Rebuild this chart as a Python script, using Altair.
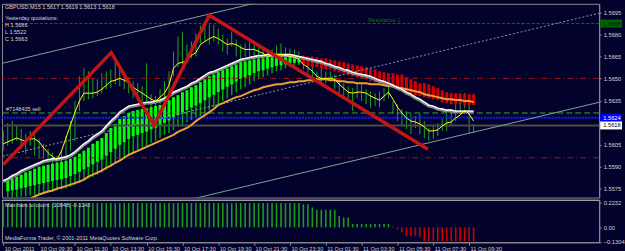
import json
import altair as alt
import pandas as pd

FONT = "Liberation Sans, Arial, sans-serif"
BG = "#02022c"
FG = "#d4d4d4"
BORDER = "#8c8c8c"

symbol_line = "GBPUSD,M15  1.5617 1.5619 1.5613 1.5618"
yesterday_lines = ["Yesterday quotations:", "H 1.5686", "L 1.5522", "C 1.5663"]
order_label = "#7148435 sell"
resistance_label = "Resistance 1"
osc_label = "Max bars to count: |10848|  -0.1143"
copyright_label = "MediaForma Trader, \u00a9 2001-2011 MetaQuotes Software Corp."

tick_idx = [0, 8, 16, 24, 32, 40, 48, 56, 64, 72, 80, 88, 96, 104]
tick_labels = ["10 Oct 2011", "10 Oct 09:30", "10 Oct 11:30", "10 Oct 13:30", "10 Oct 15:30",
               "10 Oct 17:30", "10 Oct 19:30", "10 Oct 21:30", "10 Oct 23:30", "11 Oct 01:30",
               "11 Oct 03:30", "11 Oct 05:30", "11 Oct 07:30", "11 Oct 09:30"]
price_ticks = [1.5575, 1.5590, 1.5605, 1.5635, 1.5650, 1.5665, 1.5680, 1.5695]
osc_ticks = [0.2232, 0.0, -0.1304]

bar_high = [1.56145, 1.56199, 1.56212, 1.56179, 1.56158, 1.56124, 1.56145, 1.56118, 1.56091, 1.56057,
            1.56023, 1.55996, 1.55976, 1.56009, 1.56111, 1.56212, 1.56348, 1.56517, 1.56571, 1.56551,
            1.56503, 1.56497, 1.56537, 1.56551, 1.56564, 1.56618, 1.56578, 1.56551, 1.56510, 1.56483,
            1.56470, 1.56449, 1.56605, 1.56395, 1.56382, 1.56429, 1.56483, 1.56551, 1.56686, 1.56788,
            1.56821, 1.56733, 1.56754, 1.56808, 1.56862, 1.56889, 1.56869, 1.56869, 1.56842, 1.56801,
            1.56774, 1.56821, 1.56767, 1.56733, 1.56740, 1.56754, 1.56754, 1.56713, 1.56700, 1.56700,
            1.56700, 1.56727, 1.56740, 1.56713, 1.56706, 1.56700, 1.56686, 1.56652, 1.56632, 1.56598,
            1.56551, 1.56571, 1.56551, 1.56551, 1.56530, 1.56497, 1.56470, 1.56449, 1.56436, 1.56463,
            1.56463, 1.56429, 1.56415, 1.56402, 1.56415, 1.56436, 1.56463, 1.56348, 1.56327, 1.56294,
            1.56280, 1.56260, 1.56246, 1.56260, 1.56212, 1.56165, 1.56179, 1.56199, 1.56226, 1.56260,
            1.56280, 1.56327, 1.56395, 1.56402, 1.56348, 1.56190]
bar_low = [1.56009, 1.56043, 1.56057, 1.56077, 1.56023, 1.55989, 1.56043, 1.55976, 1.55955, 1.55955,
           1.55928, 1.55901, 1.55861, 1.55806, 1.55942, 1.56009, 1.56077, 1.56280, 1.56348, 1.56361,
           1.56368, 1.56382, 1.56402, 1.56429, 1.56436, 1.56463, 1.56449, 1.56429, 1.56402, 1.56368,
           1.56348, 1.56327, 1.56348, 1.56300, 1.56294, 1.56327, 1.56368, 1.56395, 1.56517, 1.56578,
           1.56598, 1.56605, 1.56639, 1.56652, 1.56740, 1.56754, 1.56733, 1.56754, 1.56733, 1.56686,
           1.56666, 1.56720, 1.56652, 1.56632, 1.56652, 1.56646, 1.56639, 1.56618, 1.56632, 1.56618,
           1.56605, 1.56639, 1.56605, 1.56632, 1.56632, 1.56605, 1.56598, 1.56564, 1.56537, 1.56503,
           1.56483, 1.56463, 1.56470, 1.56483, 1.56429, 1.56382, 1.56368, 1.56348, 1.56280, 1.56368,
           1.56348, 1.56327, 1.56300, 1.56314, 1.56307, 1.56348, 1.56368, 1.56260, 1.56212, 1.56179,
           1.56158, 1.56124, 1.56165, 1.56124, 1.56097, 1.56077, 1.56091, 1.56111, 1.56145, 1.56145,
           1.56179, 1.56212, 1.56260, 1.56300, 1.56131, 1.56130]
ma_fast = [1.56057, 1.56070, 1.56084, 1.56097, 1.56084, 1.56077, 1.56091, 1.56091, 1.56070, 1.56030,
           1.55996, 1.55969, 1.55949, 1.56009, 1.56097, 1.56185, 1.56273, 1.56348, 1.56402, 1.56402,
           1.56402, 1.56409, 1.56429, 1.56456, 1.56483, 1.56490, 1.56503, 1.56490, 1.56476, 1.56442,
           1.56422, 1.56402, 1.56382, 1.56361, 1.56348, 1.56375, 1.56402, 1.56456, 1.56571, 1.56605,
           1.56612, 1.56625, 1.56659, 1.56679, 1.56733, 1.56754, 1.56774, 1.56788, 1.56774, 1.56754,
           1.56733, 1.56740, 1.56733, 1.56713, 1.56700, 1.56700, 1.56700, 1.56686, 1.56673, 1.56652,
           1.56659, 1.56666, 1.56666, 1.56659, 1.56652, 1.56646, 1.56632, 1.56598, 1.56578, 1.56551,
           1.56517, 1.56503, 1.56503, 1.56503, 1.56497, 1.56463, 1.56436, 1.56409, 1.56402, 1.56409,
           1.56409, 1.56402, 1.56382, 1.56368, 1.56355, 1.56382, 1.56409, 1.56361, 1.56307, 1.56267,
           1.56233, 1.56212, 1.56206, 1.56192, 1.56172, 1.56145, 1.56145, 1.56152, 1.56179, 1.56199,
           1.56206, 1.56233, 1.56253, 1.56287, 1.56260, 1.56212]
ma_mid = [1.55806, 1.55820, 1.55840, 1.55854, 1.55874, 1.55888, 1.55901, 1.55915, 1.55928, 1.55942,
          1.55949, 1.55955, 1.55955, 1.55962, 1.55969, 1.55982, 1.56003, 1.56030, 1.56057, 1.56077,
          1.56104, 1.56124, 1.56145, 1.56179, 1.56212, 1.56239, 1.56273, 1.56294, 1.56314, 1.56321,
          1.56327, 1.56334, 1.56341, 1.56341, 1.56348, 1.56355, 1.56368, 1.56388, 1.56409, 1.56422,
          1.56436, 1.56449, 1.56470, 1.56483, 1.56503, 1.56524, 1.56544, 1.56551, 1.56564, 1.56578,
          1.56591, 1.56605, 1.56618, 1.56632, 1.56639, 1.56646, 1.56652, 1.56659, 1.56659, 1.56666,
          1.56666, 1.56666, 1.56666, 1.56666, 1.56666, 1.56659, 1.56652, 1.56646, 1.56639, 1.56632,
          1.56625, 1.56618, 1.56605, 1.56598, 1.56585, 1.56578, 1.56564, 1.56558, 1.56544, 1.56537,
          1.56530, 1.56524, 1.56517, 1.56503, 1.56490, 1.56483, 1.56470, 1.56456, 1.56442, 1.56429,
          1.56409, 1.56395, 1.56375, 1.56361, 1.56341, 1.56321, 1.56314, 1.56300, 1.56294, 1.56287,
          1.56287, 1.56280, 1.56280, 1.56280, 1.56280, 1.56280]
ma_slow_start = 6
ma_slow = [1.55685, 1.55698, 1.55712, 1.55722, 1.55732, 1.55739, 1.55752, 1.55759, 1.55769, 1.55779,
           1.55789, 1.55800, 1.55813, 1.55833, 1.55847, 1.55861, 1.55874, 1.55894, 1.55908, 1.55928,
           1.55942, 1.55962, 1.55982, 1.55996, 1.56009, 1.56023, 1.56036, 1.56050, 1.56064, 1.56077,
           1.56091, 1.56104, 1.56118, 1.56138, 1.56152, 1.56165, 1.56185, 1.56212, 1.56233, 1.56253,
           1.56273, 1.56294, 1.56321, 1.56334, 1.56348, 1.56361, 1.56375, 1.56382, 1.56395, 1.56409,
           1.56422, 1.56429, 1.56442, 1.56449, 1.56456, 1.56463, 1.56463, 1.56470, 1.56476, 1.56476,
           1.56483, 1.56483, 1.56490, 1.56490, 1.56497, 1.56497, 1.56497, 1.56490, 1.56490, 1.56483,
           1.56483, 1.56476, 1.56476, 1.56470, 1.56470, 1.56470, 1.56463, 1.56463, 1.56463, 1.56456,
           1.56449, 1.56449, 1.56442, 1.56436, 1.56429, 1.56422, 1.56415, 1.56409, 1.56395, 1.56388,
           1.56382, 1.56375, 1.56368, 1.56361, 1.56361, 1.56355, 1.56355, 1.56348, 1.56348, 1.56341]
bull_start = 1
bull_top = [1.55806, 1.55820, 1.55833, 1.55847, 1.55861, 1.55874, 1.55888, 1.55901, 1.55908, 1.55915,
            1.55921, 1.55928, 1.55935, 1.55942, 1.55955, 1.55969, 1.55989, 1.56009, 1.56030, 1.56057,
            1.56077, 1.56097, 1.56131, 1.56165, 1.56192, 1.56226, 1.56246, 1.56267, 1.56280, 1.56287,
            1.56294, 1.56300, 1.56307, 1.56314, 1.56321, 1.56334, 1.56355, 1.56375, 1.56388, 1.56409,
            1.56422, 1.56442, 1.56456, 1.56476, 1.56497, 1.56517, 1.56530, 1.56544, 1.56558, 1.56571,
            1.56585, 1.56598, 1.56612, 1.56618, 1.56625, 1.56632, 1.56639, 1.56639, 1.56646, 1.56646,
            1.56646, 1.56646, 1.56646, 1.56646, 1.56639, 1.56632]
bull_bot = [1.55691, 1.55691, 1.55691, 1.55698, 1.55698, 1.55705, 1.55705, 1.55712, 1.55718, 1.55725,
            1.55732, 1.55739, 1.55746, 1.55752, 1.55766, 1.55779, 1.55793, 1.55806, 1.55820, 1.55833,
            1.55847, 1.55861, 1.55881, 1.55901, 1.55921, 1.55942, 1.55962, 1.55982, 1.56003, 1.56016,
            1.56030, 1.56043, 1.56064, 1.56077, 1.56097, 1.56118, 1.56131, 1.56152, 1.56172, 1.56185,
            1.56206, 1.56219, 1.56233, 1.56246, 1.56267, 1.56287, 1.56307, 1.56327, 1.56348, 1.56368,
            1.56388, 1.56409, 1.56429, 1.56442, 1.56463, 1.56483, 1.56497, 1.56510, 1.56524, 1.56537,
            1.56551, 1.56558, 1.56571, 1.56578, 1.56591, 1.56598]
bear_start = 67
bear_top = [1.56659, 1.56652, 1.56652, 1.56646, 1.56639, 1.56639, 1.56632, 1.56625, 1.56618, 1.56612,
            1.56605, 1.56598, 1.56591, 1.56585, 1.56578, 1.56571, 1.56564, 1.56551, 1.56544, 1.56537,
            1.56537, 1.56530, 1.56530, 1.56510, 1.56497, 1.56483, 1.56470, 1.56470, 1.56463, 1.56449,
            1.56436, 1.56422, 1.56409, 1.56402, 1.56402, 1.56402, 1.56395, 1.56395, 1.56395]
bear_bot = [1.56598, 1.56585, 1.56578, 1.56578, 1.56571, 1.56564, 1.56564, 1.56551, 1.56544, 1.56537,
            1.56524, 1.56517, 1.56510, 1.56503, 1.56497, 1.56483, 1.56476, 1.56470, 1.56456, 1.56449,
            1.56442, 1.56436, 1.56429, 1.56415, 1.56402, 1.56388, 1.56382, 1.56375, 1.56368, 1.56361,
            1.56355, 1.56341, 1.56334, 1.56327, 1.56327, 1.56327, 1.56321, 1.56321, 1.56321]
osc = [0.218] * 67 + [0.208, 0.208, 0.179, 0.158, 0.158, 0.158, 0.158, 0.158, 0.104, 0.089, 0.089,
                      0.03, 0.03, 0.03, 0.03, 0.03, 0.03, 0.03, 0.03, 0.03, 0.005,
                      -0.02, -0.045, -0.08, -0.08, -0.08, -0.089] + [-0.125] * 12

zigzag_idx = [0, 24.1, 33.65, 46.0, 94.8]
zigzag_price = [1.55915, 1.56679, 1.56185, 1.56933, 1.56020]

trend_name = ["upper", "upper", "lower", "lower"]
trend_idx = [-1, 60, 43, 134]
trend_price = [1.56600, 1.57043, 1.55687, 1.56347]
mid_trend_idx = [-1, 134]
mid_trend_price = [1.55966, 1.56954]

resistance_level = 1.56876
red_levels = [1.56503, 1.55962]
order_level = 1.56267
ask_level = 1.56235
bid_level = 1.56182
tag_price = [1.56876, 1.56235, 1.56182]
tag_text = ["1.5688", "1.5624", "1.5618"]
tag_bg = ["#006400", "#0000ff", "#ffffff"]
tag_fg = ["#002000", "#ffffff", "#000000"]

N = len(bar_high)
df_bars = pd.DataFrame({"i": list(range(N)), "hi": bar_high, "lo": bar_low,
                        "fast": ma_fast, "mid": ma_mid})
df_slow = pd.DataFrame({"i": list(range(ma_slow_start, ma_slow_start + len(ma_slow))), "slow": ma_slow})
df_bull = pd.DataFrame({"i": list(range(bull_start, bull_start + len(bull_top))), "top": bull_top, "bot": bull_bot})
df_bear = pd.DataFrame({"i": list(range(bear_start, bear_start + len(bear_top))), "top": bear_top, "bot": bear_bot})
df_osc = pd.DataFrame({"i": list(range(N)), "v": osc})
df_zz = pd.DataFrame({"i": zigzag_idx, "p": zigzag_price})
df_tr = pd.DataFrame({"name": trend_name, "i": trend_idx, "p": trend_price})
df_mtr = pd.DataFrame({"i": mid_trend_idx, "p": mid_trend_price})
df_tags = pd.DataFrame({"p": tag_price, "t": tag_text, "bg": tag_bg, "fg": tag_fg})

W = 601
H_MAIN = 195
H_OSC = 43

xs = alt.Scale(domain=[-0.29, 133.03], nice=False, zero=False)
ys = alt.Scale(domain=[1.55691, 1.57011], nice=False, zero=False)
ys2 = alt.Scale(domain=[-0.1339, 0.25], nice=False, zero=False)

yaxis = alt.Axis(orient="right", values=price_ticks, format=".4f", title=None, grid=False,
                 tickSize=2, labelPadding=2, labelFontSize=5.8, labelColor=FG, labelFont=FONT,
                 tickColor=BORDER, domainColor=BORDER, labelOverlap=False, labelFlush=False)


def X():
    return alt.X("i:Q", scale=xs, axis=None)


def Y(f):
    return alt.Y(f, scale=ys, axis=yaxis)


base = alt.Chart(df_bars)
price_bars = base.mark_rule(color="#1ea51e", strokeWidth=1, clip=True).encode(X(), Y("hi:Q"), y2="lo:Q")
bull_wick = alt.Chart(df_bull).mark_rule(color="#00a800", strokeWidth=1.5, clip=True).encode(X(), Y("top:Q"), y2="bot:Q")
bull_body = alt.Chart(df_bull).transform_calculate(
    m="datum.top - 0.62*(datum.top - datum.bot)"
).mark_rule(color="#00ff00", strokeWidth=3, clip=True).encode(X(), Y("top:Q"), y2="m:Q")
bear_body = alt.Chart(df_bear).mark_rule(color="#d40000", strokeWidth=3, clip=True).encode(X(), Y("top:Q"), y2="bot:Q")

slow_line = alt.Chart(df_slow).mark_line(color="#f0a030", strokeWidth=2, clip=True).encode(X(), Y("slow:Q"))
mid_shadow = base.mark_line(color="#8a8a8a", strokeWidth=3, yOffset=1, clip=True).encode(X(), Y("mid:Q"))
mid_line = base.mark_line(color="#ffffff", strokeWidth=1.4, clip=True).encode(X(), Y("mid:Q"))
fast_line = base.mark_line(color="#ffff00", strokeWidth=1, clip=True).encode(X(), Y("fast:Q"))

one = pd.DataFrame({"k": [0]})
res_rule = alt.Chart(one).mark_rule(color="#0a7a0a", strokeWidth=1, strokeDash=[3, 2]).encode(y=alt.datum(resistance_level, scale=ys, axis=yaxis))
red_rules = alt.Chart(pd.DataFrame({"p": red_levels})).mark_rule(color="#a01414", strokeWidth=1, strokeDash=[6, 3, 1, 3]).encode(Y("p:Q"))
order_rule = alt.Chart(one).mark_rule(color="#2fae2f", strokeWidth=1, strokeDash=[6, 3]).encode(y=alt.datum(order_level, scale=ys, axis=yaxis))
ask_rule = alt.Chart(one).mark_rule(color="#1a1aff", strokeWidth=2, strokeDash=[2, 1]).encode(y=alt.datum(ask_level, scale=ys, axis=yaxis))
bid_rule = alt.Chart(one).mark_rule(color="#4a4a4a", strokeWidth=2).encode(y=alt.datum(bid_level, scale=ys, axis=yaxis))

trend = alt.Chart(df_tr).mark_line(color="#7fa496", strokeWidth=1, clip=True).encode(X(), Y("p:Q"), detail="name:N")
mid_trend = alt.Chart(df_mtr).mark_line(color="#8a9aa6", strokeWidth=1, strokeDash=[2, 2], clip=True).encode(X(), Y("p:Q"))
zigzag = alt.Chart(df_zz).mark_line(color="#c41414", strokeWidth=3.5, clip=True).encode(X(), Y("p:Q"))

txt_kw = dict(font=FONT, fontSize=5.6, color=FG, align="left", baseline="top")
t_symbol = alt.Chart(one).mark_text(**txt_kw).encode(x=alt.value(3), y=alt.value(1), text=alt.value(symbol_line))
t_yest = alt.Chart(one).mark_text(lineHeight=7, **txt_kw).encode(x=alt.value(3), y=alt.value(12), text=alt.value(yesterday_lines))
t_order = alt.Chart(one).mark_text(font=FONT, fontSize=5.6, color=FG, align="left", baseline="bottom", dy=-1).encode(
    x=alt.value(4), y=alt.datum(order_level, scale=ys, axis=yaxis), text=alt.value(order_label))
t_res = alt.Chart(one).mark_text(font=FONT, fontSize=5.6, color="#0a7a0a", align="left", baseline="bottom", dy=-1).encode(
    x=alt.datum(81.5, scale=xs, axis=None), y=alt.datum(resistance_level, scale=ys, axis=yaxis), text=alt.value(resistance_label))

tags = alt.Chart(df_tags).transform_calculate(
    lo="datum.p - 0.00027", hi="datum.p + 0.00027"
)
tag_rect = tags.mark_rect().encode(x=alt.value(W + 1), x2=alt.value(W + 23), y=Y("lo:Q"), y2="hi:Q",
                                   color=alt.Color("bg:N", scale=None))
tag_text_m = tags.mark_text(font=FONT, fontSize=5.8, align="left", baseline="middle").encode(
    x=alt.value(W + 4), y=Y("p:Q"), text="t:N", color=alt.Color("fg:N", scale=None))

main = alt.layer(
    price_bars, bull_wick, bull_body, bear_body,
    res_rule, red_rules, order_rule, ask_rule, bid_rule,
    trend, mid_trend, slow_line, mid_shadow, mid_line, fast_line, zigzag,
    t_symbol, t_yest, t_order, t_res, tag_rect, tag_text_m
).properties(width=W, height=H_MAIN)

label_expr = json.dumps(tick_labels) + "[round(datum.value / 8)]"
xaxis2 = alt.Axis(values=tick_idx, labelExpr=label_expr, title=None, grid=False, tickSize=3,
                  labelAlign="left", labelPadding=1, labelOffset=1, labelFontSize=5.6, labelColor=FG,
                  labelFont=FONT, tickColor=BORDER, domainColor=BORDER, labelOverlap=False, labelFlush=False)
osc_axis = alt.Axis(orient="right", values=osc_ticks, title=None, grid=False, tickSize=2, labelPadding=2,
                    labelExpr="datum.value == 0 ? '0.00' : format(datum.value, '.4f')",
                    labelFontSize=5.8, labelColor=FG, labelFont=FONT, tickColor=BORDER, domainColor=BORDER,
                    labelOverlap=False, labelFlush=False)

osc_bars = alt.Chart(df_osc).mark_rule(strokeWidth=1.6).encode(
    x=alt.X("i:Q", scale=xs, axis=xaxis2),
    y=alt.Y("v:Q", scale=ys2, axis=osc_axis),
    y2=alt.datum(0),
    color=alt.condition("datum.v >= 0", alt.value("#1b9b1b"), alt.value("#cc0000")),
)
sep = alt.Chart(one).mark_rule(color="#a0a0a0", strokeWidth=1).encode(y=alt.value(1))
t_osc = alt.Chart(one).mark_text(font=FONT, fontSize=5.6, color=FG, align="left", baseline="top").encode(
    x=alt.value(3), y=alt.value(4), text=alt.value(osc_label))
t_copy = alt.Chart(one).mark_text(font=FONT, fontSize=5.6, color=FG, align="left", baseline="bottom").encode(
    x=alt.value(3), y=alt.value(H_OSC - 1), text=alt.value(copyright_label))

osc_chart = alt.layer(osc_bars, sep, t_osc, t_copy).properties(width=W, height=H_OSC)

chart = alt.vconcat(main, osc_chart, spacing=0).properties(
    padding={"left": 0, "top": 2, "right": 0, "bottom": 0},
    background=BG,
).configure_view(stroke=BORDER, strokeWidth=1, fill=BG)

chart.save("out.html", embed_options={"renderer": "svg", "actions": False})
